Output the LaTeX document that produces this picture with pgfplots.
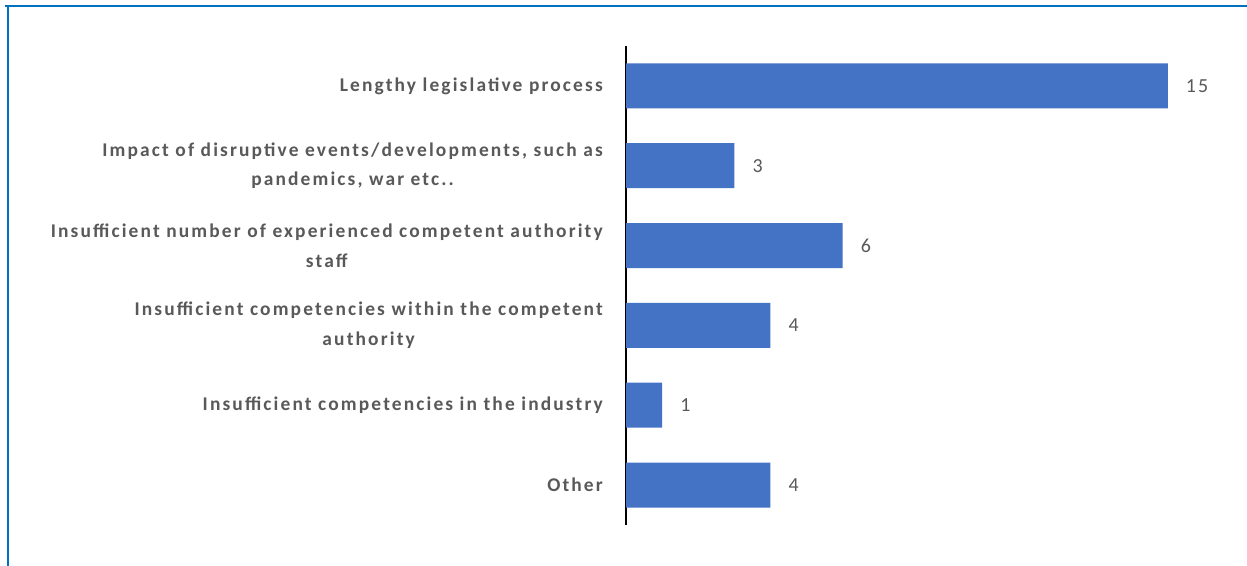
\documentclass[border=0pt]{standalone}
\usepackage{pgfplots}
\pgfplotsset{compat=1.18}
\usepackage{fontspec}
\setmainfont{Carlito}
\newfontfamily\lblfont[LetterSpace=11]{Carlito}
\newfontfamily\numfont[LetterSpace=11]{Carlito}
\definecolor{barblue}{HTML}{4472C4}
\definecolor{txtgrey}{HTML}{595959}
\definecolor{frameblue}{HTML}{0070C0}
\begin{document}
\begin{tikzpicture}
\useasboundingbox[fill=white] (0,0) rectangle (1247bp,566bp);
\draw[frameblue, line width=2bp] (5bp,560bp) -- (1247bp,560bp);
\draw[frameblue, line width=2bp] (7.5bp,561bp) -- (7.5bp,0bp);
\begin{axis}[
  at={(626bp,41bp)}, anchor=south west,
  scale only axis,
  width=614bp, height=479bp,
  xmin=0, xmax=17,
  ymin=-0.5, ymax=5.5,
  xbar, bar width=45bp,
  axis x line=none,
  axis y line=left,
  y axis line style={-, black, line width=1.2bp},
  ytick={0,1,2,3,4,5},
  yticklabels={
    Other,
    Insufficient competencies in the industry,
    Insufficient competencies within the competent\\authority,
    Insufficient number of experienced competent authority\\staff,
    {Impact of disruptive events/developments, such as\\pandemics, war etc..},
    Lengthy legislative process},
  major tick length=0pt,
  y tick label style={inner sep=0pt, align=center, font=\lblfont\fontsize{19.5}{30}\selectfont\bfseries, text=txtgrey, xshift=-23bp},
  /pgf/number format/assume math mode=true,
  nodes near coords,
  nodes near coords style={anchor=west, inner sep=0pt, xshift=18bp, font=\numfont\fontsize{20}{24}\selectfont, text=txtgrey},
  clip=false,
]
\addplot[fill=barblue, draw=none] coordinates {
  (4,0) (1,1) (4,2) (6,3) (3,4) (15,5)
};
\end{axis}
\end{tikzpicture}
\end{document}
